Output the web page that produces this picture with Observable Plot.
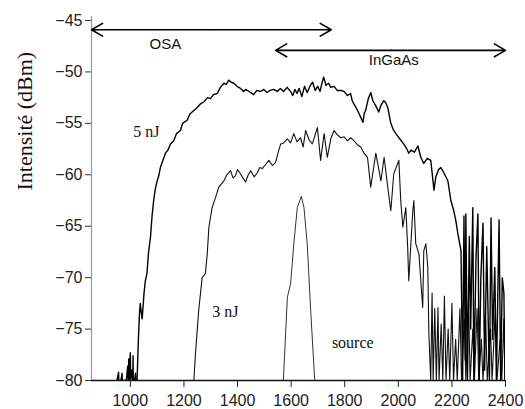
<!DOCTYPE html>
<html>
<head>
<meta charset="utf-8">
<script src="https://cdn.jsdelivr.net/npm/d3@7"></script>
<script src="https://cdn.jsdelivr.net/npm/@observablehq/plot@0.6"></script>
<style>
  html, body { margin: 0; padding: 0; background: #fff; }
  #chart svg { display: block; }
</style>
</head>
<body>
<div id="chart"></div>
<script>
// ---- data ----
const yTicks = [-80, -75, -70, -65, -60, -55, -50, -45];
const xTicks = [1000, 1200, 1400, 1600, 1800, 2000, 2200, 2400];

// 5 nJ spectrum: wavelength (nm) and power (dBm)
const wl5 = [950,956,957,965,969,970,985,990,992,994,995,997,1000,1001,1005,1009,1010,1011,1016,1019,1020,1025,1030,1034,1037,1040,1044,1047,1051,1056,1062,1068,1075,1081,1087,1093,1100,1106,1112,1120,1131,1140,1150,1162,1172,1187,1195,1212,1222,1237,1248,1262,1275,1288,1299,1310,1324,1336,1349,1358,1367,1376,1386,1398,1411,1422,1430,1449,1460,1472,1486,1498,1510,1522,1535,1548,1560,1572,1585,1598,1606,1614,1622,1630,1640,1650,1660,1672,1680,1690,1699,1708,1714,1721,1730,1740,1748,1760,1772,1785,1798,1810,1822,1828,1834,1845,1856,1868,1873,1878,1888,1897,1905,1916,1927,1936,1946,1953,1961,1972,1981,1991,2005,2020,2030,2039,2047,2060,2073,2084,2095,2108,2121,2127,2133,2140,2150,2159,2170,2185,2196,2207,2215,2222,2234,2240,2245,2250,2252,2258,2265,2270,2278,2282,2290,2297,2302,2308,2316,2322,2330,2340,2346,2352,2360,2366,2376,2382,2388,2394,2398];
const db5 = [-80,-79.2,-80,-80,-79.3,-80,-80,-78.6,-80,-77.9,-80,-78.5,-77.3,-80,-79,-80,-77.6,-80,-80,-79.3,-80,-80,-76.0,-73.5,-72.5,-73.2,-74.0,-73.0,-71.5,-70.3,-69.6,-67.5,-66.1,-64.0,-62.5,-61.4,-60.6,-60.1,-59.3,-58.7,-57.9,-57.6,-57.0,-56.7,-56.0,-55.7,-55.0,-54.7,-54.1,-53.75,-53.5,-53.1,-52.9,-52.5,-52.6,-52.2,-52.1,-51.5,-51.1,-51.2,-50.8,-51.0,-51.1,-51.4,-51.6,-51.9,-51.7,-52.0,-52.2,-51.8,-51.9,-51.7,-52.0,-51.8,-51.7,-51.9,-51.6,-51.9,-51.5,-51.9,-52.3,-51.7,-52.1,-51.6,-52.4,-51.4,-52.0,-51.3,-51.0,-51.8,-51.4,-51.9,-51.2,-50.5,-51.3,-51.1,-51.5,-51.4,-51.8,-51.8,-51.9,-52.3,-52.1,-52.8,-53.1,-53.6,-54.2,-54.9,-54.0,-53.75,-52.6,-52.0,-52.8,-53.3,-53.9,-53.2,-52.8,-53.0,-53.5,-55.0,-55.6,-56.0,-56.5,-57.0,-57.4,-57.9,-57.6,-57.8,-57.2,-58.3,-58.9,-58.4,-58.6,-60.0,-61.5,-60.2,-59.5,-59.3,-59.8,-60.6,-62.5,-63.5,-64.5,-65.7,-67.4,-80,-64.0,-78,-63.8,-80,-66,-75,-63.2,-80,-68,-63.8,-80,-70,-64.7,-79,-67,-80,-64.2,-76,-69,-80,-64.4,-80,-70,-71.5,-80];

// 3 nJ spectrum
const wl3 = [1237,1243,1255,1268,1280,1287,1293,1305,1318,1330,1349,1360,1374,1383,1392,1400,1411,1420,1430,1440,1449,1462,1474,1483,1492,1505,1517,1530,1542,1552,1561,1572,1586,1598,1610,1622,1635,1645,1654,1667,1679,1690,1698,1710,1723,1735,1748,1760,1772,1785,1798,1810,1822,1835,1848,1860,1872,1885,1897,1916,1935,1947,1961,1972,1983,2002,2009,2017,2028,2035,2039,2054,2058,2065,2077,2091,2095,2103,2110,2114,2121,2126,2130,2136,2142,2148,2152,2160,2166,2172,2178,2186,2192,2200,2206,2214,2220,2230,2236,2246,2252,2262,2268,2278,2284,2294,2300,2310,2316,2326,2332,2344,2350,2362,2368,2380,2386,2394,2398];
const db3 = [-80,-77.4,-73.2,-70.0,-69.6,-67.7,-65.1,-63.2,-62.2,-61.2,-60.6,-60.0,-59.6,-60.3,-60.1,-59.5,-59.9,-60.3,-60.7,-60.0,-59.6,-60.2,-59.8,-59.3,-59.4,-59.0,-58.6,-59.1,-58.8,-57.8,-57.0,-56.9,-56.5,-56.9,-56.0,-56.8,-56.4,-57.3,-55.7,-56.6,-57.0,-56.1,-55.4,-58.6,-56.0,-58.3,-56.5,-55.7,-56.1,-56.4,-56.3,-56.7,-56.4,-56.7,-57.1,-57.3,-57.9,-58.3,-61.2,-57.9,-60.6,-58.3,-61.3,-63.5,-59.9,-58.6,-62.5,-65.1,-63.2,-67.1,-70.3,-63.5,-62.5,-66.7,-67.7,-72.9,-67.4,-66.7,-69.0,-75.4,-80,-71.5,-80,-73,-80,-72.9,-80,-74.5,-80,-71.8,-80,-75,-80,-72.5,-80,-76,-80,-73,-80,-74,-80,-72,-80,-75,-80,-73,-80,-76,-80,-74,-80,-75,-80,-73,-80,-76,-80,-74,-80];

// pump source spectrum
const wlSrc = [1571,1586,1598,1610,1623,1638,1648,1660,1673,1688];
const dbSrc = [-80,-71.9,-70.6,-66.7,-63.2,-62.1,-63.2,-66.7,-73.2,-80];

// detector ranges (double arrows)
const detectorNames = ["OSA", "InGaAs"];
const detectorFrom = [855, 1542];
const detectorTo = [1750, 2400];
const detectorLevel = [-45.9, -47.9];
const detectorLabelX = [1131, 1983];
const detectorLabelY = [-47.3, -48.9];

// curve labels
const curveNames = ["5 nJ", "3 nJ", "source"];
const curveLabelX = [1060, 1355, 1830];
const curveLabelY = [-55.8, -73.3, -76.3];

// ---- build tables ----
const toRows = (xs, ys) => xs.map((x, i) => ({x, y: ys[i]}));
const s5 = toRows(wl5, db5);
const s3 = toRows(wl3, db3);
const sSrc = toRows(wlSrc, dbSrc);
const detectors = detectorNames.map((n, i) => ({
  name: n, from: detectorFrom[i], to: detectorTo[i], level: detectorLevel[i],
  mid: (detectorFrom[i] + detectorTo[i]) / 2, lx: detectorLabelX[i], ly: detectorLabelY[i]
}));
const curveLabels = curveNames.map((n, i) => ({name: n, x: curveLabelX[i], y: curveLabelY[i]}));

const sans = "'Liberation Sans', Arial, Helvetica, sans-serif";
const serif = "'Liberation Serif', 'Times New Roman', serif";

const chart = Plot.plot({
  width: 525,
  height: 409,
  marginLeft: 91,
  marginRight: 20,
  marginTop: 20,
  marginBottom: 29,
  style: {fontFamily: sans, fontSize: "16px", color: "#222", background: "#fff"},
  x: {domain: [855, 2400]},
  y: {domain: [-80, -45]},
  marks: [
    Plot.axisY({ticks: yTicks, tickSize: 6, tickPadding: 3, label: null, stroke: "#333", fill: "#222"}),
    Plot.axisX({ticks: xTicks, tickFormat: d3.format("d"), tickSize: 7, tickPadding: 7, label: null, stroke: "#222", fill: "#222"}),
    Plot.ruleX([855], {y1: -80, y2: -44.6, stroke: "#999", strokeWidth: 1.2}),
    Plot.ruleY([-80], {x1: 855, x2: 2400, stroke: "#111", strokeWidth: 1.5}),
    Plot.line(sSrc, {x: "x", y: "y", stroke: "#333", strokeWidth: 1, clip: true}),
    Plot.line(s3, {x: "x", y: "y", stroke: "#111", strokeWidth: 1.1, clip: true}),
    Plot.line(s5, {x: "x", y: "y", stroke: "#000", strokeWidth: 1.4, clip: true}),
    Plot.arrow(detectors, {x1: "mid", x2: "from", y1: "level", y2: "level", stroke: "#000", strokeWidth: 1.6, headLength: 12, headAngle: 60}),
    Plot.arrow(detectors, {x1: "mid", x2: "to", y1: "level", y2: "level", stroke: "#000", strokeWidth: 1.6, headLength: 12, headAngle: 60}),
    Plot.text(detectors, {x: "lx", y: "ly", text: "name", fontSize: 15, fontFamily: sans, fill: "#111"}),
    Plot.text(curveLabels, {x: "x", y: "y", text: "name", fontSize: 16, fontFamily: serif, fill: "#111"}),
    Plot.text(["Intensité (dBm)"], {frameAnchor: "left", rotate: -90, dx: -67, dy: -10, fontSize: 22, fontFamily: serif, fill: "#111"})
  ]
});
document.getElementById("chart").appendChild(chart);
</script>
</body>
</html>
